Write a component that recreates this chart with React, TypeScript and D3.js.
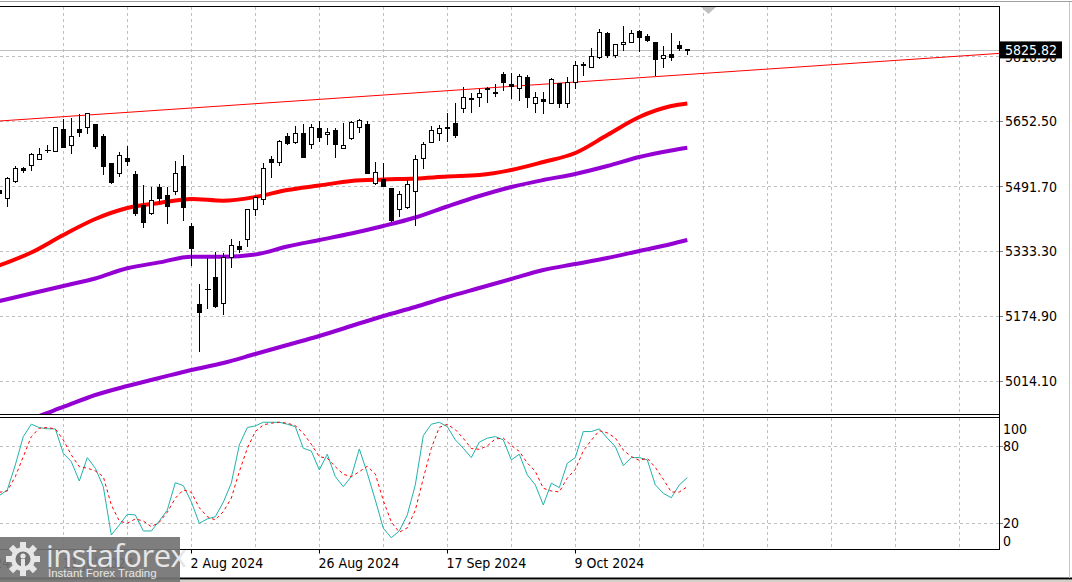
import React from 'react';
import * as d3 from 'd3';

// ---------- DATA ----------
const open = [5483.1,5462.7,5505.9,5535.9,5543.7,5559.9,5582.5,5579.6,5632.1,5592.8,5632.9,5637.0,5645.1,5615.7,5548.6,5525.6,5560.9,5522.4,5446.2,5425.9,5489.7,5470.8,5481.8,5542.7,5394.7,5203.2,5240.0,5270.2,5206.4,5317.8,5345.6,5363.5,5435.7,5460.2,5558.5,5551.1,5615.7,5600.9,5623.8,5595.3,5635.3,5619.8,5630.4,5585.5,5610.0,5638.5,5645.1,5499.5,5509.3,5487.3,5435.7,5440.6,5481.4,5560.9,5601.7,5622.3,5638.5,5646.9,5683.7,5709.7,5712.2,5732.8,5724.4,5767.9,5743.3,5732.8,5761.3,5697.4,5705.3,5696.0,5745.1,5696.0,5749.0,5792.5,5785.8,5808.9,5869.3,5814.6,5840.8,5847.2,5874.2,5861.9,5845.7,5807.9,5817.0,5839.1,5828.1];
const high = [5488.0,5515.0,5542.0,5540.3,5574.7,5585.5,5593.6,5637.8,5656.7,5659.1,5669.7,5672.1,5646.0,5619.8,5549.4,5576.4,5591.1,5529.0,5495.4,5489.7,5497.8,5491.2,5553.1,5569.0,5402.8,5252.3,5315.4,5331.6,5327.7,5362.8,5357.9,5436.4,5468.3,5548.6,5565.8,5605.8,5623.8,5640.2,5645.1,5645.1,5653.2,5634.6,5634.6,5648.3,5653.2,5656.7,5653.2,5552.6,5550.1,5488.0,5481.4,5507.6,5569.0,5601.7,5640.2,5642.7,5672.9,5696.0,5736.7,5720.5,5730.3,5736.7,5743.3,5773.6,5769.6,5767.9,5765.4,5723.0,5724.4,5757.3,5745.8,5761.3,5800.6,5798.1,5831.0,5877.7,5871.8,5841.6,5886.5,5875.9,5875.9,5866.1,5846.5,5836.7,5867.8,5849.7,5828.6];
const low = [5470.8,5443.8,5503.5,5528.0,5532.2,5559.2,5577.1,5578.8,5588.7,5573.2,5615.7,5623.8,5585.5,5522.4,5499.5,5518.2,5544.5,5421.7,5393.0,5424.1,5450.4,5402.8,5473.3,5409.4,5298.9,5088.5,5194.1,5195.8,5177.9,5294.7,5330.8,5345.6,5421.7,5448.7,5514.3,5543.7,5596.0,5599.7,5563.4,5585.5,5602.7,5596.0,5563.4,5585.0,5609.5,5626.2,5524.0,5497.8,5492.9,5407.7,5419.2,5438.9,5397.1,5536.4,5600.9,5605.8,5604.1,5614.0,5675.3,5675.3,5689.3,5699.9,5713.9,5728.6,5708.2,5704.1,5687.6,5675.3,5671.4,5695.5,5686.1,5686.9,5732.8,5765.4,5785.1,5807.2,5810.4,5808.9,5826.8,5846.9,5825.1,5848.9,5765.4,5785.8,5802.3,5826.8,5817.0];
const close = [5475.7,5511.8,5536.4,5533.4,5570.7,5570.7,5580.1,5637.0,5589.4,5615.7,5626.2,5671.4,5591.9,5542.7,5503.5,5569.0,5555.0,5427.3,5405.2,5458.5,5464.2,5443.8,5524.1,5442.1,5341.4,5184.3,5238.8,5198.3,5317.8,5347.3,5338.2,5436.4,5466.6,5536.4,5552.6,5604.1,5597.7,5622.3,5564.8,5637.0,5612.5,5626.2,5596.0,5593.6,5650.8,5655.0,5525.6,5528.0,5493.6,5409.4,5472.5,5497.8,5558.5,5596.0,5630.4,5636.0,5634.6,5618.1,5712.2,5705.8,5720.5,5730.3,5720.5,5749.0,5738.4,5763.0,5710.7,5712.2,5702.8,5754.9,5696.0,5749.0,5790.0,5791.2,5812.8,5870.3,5814.6,5841.6,5845.7,5867.8,5859.5,5851.4,5804.0,5814.6,5808.9,5831.0,5825.82];

// moving averages read at every 4th bar (bar index, price)
const maIdx = [0,4,8,12,16,20,24,28,32,36,40,44,48,52,56,60,64,68,72,76,80,84,86];
const maRed = [5297.7,5329.6,5372.6,5411.9,5438.9,5451.2,5461.0,5456.8,5465.9,5483.1,5494.1,5505.2,5508.9,5511.3,5516.2,5519.9,5532.2,5551.8,5573.9,5618.1,5662.3,5689.3,5695.5];
const maPurple1 = [5210.5,5228.9,5247.4,5265.8,5290.8,5305.3,5319.3,5319.3,5324.7,5344.3,5360.3,5376.3,5394.7,5415.6,5442.6,5468.3,5490.4,5507.6,5522.4,5542.0,5564.1,5580.1,5586.9];
const maPurple2 = [4888.9,4920.8,4950.3,4979.7,5001.8,5021.5,5041.1,5058.3,5080.4,5102.5,5124.6,5149.1,5173.7,5195.8,5220.3,5242.5,5264.6,5286.6,5301.4,5316.1,5333.3,5350.5,5360.3];

// trend line anchors (bar index, price)
const trendIdx = [0, 125];
const trendPrice = [5652.5, 5818.5];

// stochastic
const stochK = [41.4,45.8,65.1,87.0,96.6,94.0,93.0,93.0,74.1,67.7,52.7,70.8,62.6,48.3,11.0,18.7,27.0,26.5,14.1,14.1,21.8,30.3,51.4,49.1,36.7,20.0,23.4,25.1,36.3,51.0,80.6,94.0,95.3,98.1,98.1,98.1,96.6,94.7,78.0,75.9,61.3,73.4,56.1,48.3,56.1,77.5,58.7,38.0,16.2,8.9,14.1,26.5,49.7,87.8,96.6,98.1,94.7,84.5,78.0,70.8,82.7,85.8,87.0,84.5,69.0,73.4,57.4,49.7,34.2,51.0,47.6,66.4,70.8,90.9,90.9,93.0,85.8,79.3,64.6,70.8,70.8,69.0,49.7,43.2,39.8,49.7,55.3];
const stochD = [44.0,45.0,56.1,71.5,87.0,93.5,94.0,93.0,84.4,72.9,63.8,62.6,60.5,56.1,34.2,21.8,20.0,23.4,21.8,17.4,20.8,28.5,39.4,45.8,44.0,32.1,25.1,22.6,29.0,39.4,59.9,78.0,90.9,96.1,97.4,98.1,97.4,95.5,89.6,81.1,71.5,70.3,63.8,57.9,56.1,59.9,64.1,58.1,37.6,21.0,13.1,16.5,30.1,54.7,78.0,94.2,96.5,92.4,85.7,77.8,77.2,79.8,85.2,85.8,80.2,75.6,66.6,60.2,47.1,45.0,44.3,55.0,61.6,76.0,84.2,91.6,89.9,86.0,76.6,71.6,68.7,70.2,63.2,54.0,44.2,44.2,48.3];

// axes
const priceTicks = [5810.90, 5652.50, 5491.70, 5333.30, 5174.90, 5014.10];
const stochTicks = [80, 20];
const stochLabels = [100, 80, 20, 0];
const dateTickIdx = [-8, 8, 24, 40, 56, 72];
const dateTickLabels = ['19 Jun 2024', '11 Jul 2024', '2 Aug 2024', '26 Aug 2024', '17 Sep 2024', '9 Oct 2024'];
const lastPrice = 5825.82;

// ---------- LAYOUT ----------
const W = 1072, H = 582;
const PR = 999;
const MAIN_TOP = 6.5, MAIN_BOT = 414.5;
const ST_TOP = 417.5, ST_BOT = 549.5;
const FONT = "'DejaVu Sans Condensed', 'DejaVu Sans', sans-serif";

const x = d3.scaleLinear().domain([0, 125]).range([-0.7, 999.3]);
const y = d3.scaleLinear().domain([5014.1, 5652.5]).range([381, 121]);
const ys = d3.scaleLinear().domain([0, 100]).range([549.2, 419.8]);

export default function App() {
  const cx = (i: number) => Math.round(x(i)) + 0.5;
  const maLine = (vals: number[]) =>
    d3.line<number>().x((_, k) => x(maIdx[k])).y((v) => y(v)).curve(d3.curveMonotoneX)(vals) || '';
  const stLine = (vals: number[]) =>
    d3.line<number>().x((_, k) => x(k)).y((v) => ys(v))(vals) || '';
  const vGrid = d3.range(8, 126, 8);

  return (
    <svg width={W} height={H} style={{ position: 'absolute', left: 0, top: 0, background: '#fff' }}
      fontFamily={FONT}>
      <defs>
        <clipPath id="mainClip"><rect x={0} y={MAIN_TOP} width={PR} height={MAIN_BOT - MAIN_TOP} /></clipPath>
        <clipPath id="stClip"><rect x={0} y={ST_TOP} width={PR} height={ST_BOT - ST_TOP} /></clipPath>
      </defs>
      <rect x={0} y={0} width={W} height={H} fill="#fff" />
      <line x1={0} x2={W} y1={1.5} y2={1.5} stroke="#a0a0a0" />

      {/* grids */}
      <g stroke="#c0c0c0" strokeDasharray="3,3" shapeRendering="crispEdges">
        {vGrid.map((i) => (
          <g key={i}>
            <line x1={cx(i)} x2={cx(i)} y1={MAIN_TOP} y2={MAIN_BOT} />
            <line x1={cx(i)} x2={cx(i)} y1={ST_TOP} y2={ST_BOT} />
          </g>
        ))}
        {priceTicks.map((p) => (
          <line key={p} x1={0} x2={PR} y1={Math.round(y(p)) + 0.5} y2={Math.round(y(p)) + 0.5} />
        ))}
        {stochTicks.map((v) => (
          <line key={v} x1={0} x2={PR} y1={Math.round(ys(v)) + 0.5} y2={Math.round(ys(v)) + 0.5} />
        ))}
      </g>

      {/* main panel */}
      <g clipPath="url(#mainClip)">
        <line x1={0} x2={PR} y1={Math.round(y(lastPrice)) + 0.5} y2={Math.round(y(lastPrice)) + 0.5} stroke="#c0c0c0" />
        <line x1={x(trendIdx[0])} x2={x(trendIdx[1])} y1={y(trendPrice[0])} y2={y(trendPrice[1])} stroke="#ff0000" strokeWidth={1} />
        <path d={maLine(maPurple2)} fill="none" stroke="#9400d3" strokeWidth={4} />
        <path d={maLine(maPurple1)} fill="none" stroke="#9400d3" strokeWidth={4} />
        <path d={maLine(maRed)} fill="none" stroke="#ff0000" strokeWidth={4} />
        <g shapeRendering="crispEdges">
          {open.map((o, i) => {
            const c = close[i];
            const xc = cx(i);
            const top = Math.round(y(Math.max(o, c)));
            const bot = Math.round(y(Math.min(o, c)));
            const up = c >= o;
            return (
              <g key={i}>
                <line x1={xc} x2={xc} y1={Math.round(y(high[i]))} y2={Math.round(y(low[i])) + 1} stroke="#000" />
                {bot - top < 1 ? (
                  <line x1={xc - 2.5} x2={xc + 3.5} y1={top + 0.5} y2={top + 0.5} stroke="#000" />
                ) : (
                  <rect x={xc - 2} y={top + 0.5} width={4} height={bot - top}
                    fill={up ? '#fff' : '#000'} stroke="#000" />
                )}
              </g>
            );
          })}
        </g>
      </g>

      {/* stochastic */}
      <g clipPath="url(#stClip)">
        <path d={stLine(stochK)} fill="none" stroke="#20b2aa" strokeWidth={1} />
        <path d={stLine(stochD)} fill="none" stroke="#ff0000" strokeWidth={1} strokeDasharray="3,3" />
      </g>

      {/* frames */}
      <g stroke="#000" shapeRendering="crispEdges">
        <line x1={0} x2={PR + 0.5} y1={MAIN_TOP} y2={MAIN_TOP} />
        <line x1={0} x2={PR + 0.5} y1={MAIN_BOT} y2={MAIN_BOT} />
        <line x1={0} x2={PR + 0.5} y1={ST_TOP} y2={ST_TOP} />
        <line x1={0} x2={PR + 0.5} y1={ST_BOT} y2={ST_BOT} />
        <line x1={PR + 0.5} x2={PR + 0.5} y1={MAIN_TOP} y2={ST_BOT} />
      </g>
      <polygon points="701,7 716,7 708.5,14" fill="#c0c0c0" />

      {/* price axis */}
      <g fontSize={14} fill="#000">
        {priceTicks.map((p) => (
          <g key={p}>
            <line x1={PR + 1} x2={PR + 4} y1={Math.round(y(p)) + 0.5} y2={Math.round(y(p)) + 0.5} stroke="#808080" />
            <text x={1005} y={y(p)} dy="0.36em">{p.toFixed(2)}</text>
          </g>
        ))}
        <rect x={1000} y={y(lastPrice) - 9} width={62} height={17} fill="#000" />
        <text x={1031} y={y(lastPrice)} dy="0.36em" textAnchor="middle" fill="#fff">{lastPrice.toFixed(2)}</text>
      </g>

      {/* stochastic axis */}
      <g fontSize={14} fill="#000">
        {stochTicks.map((v) => (
          <line key={v} x1={PR + 1} x2={PR + 4} y1={Math.round(ys(v)) + 0.5} y2={Math.round(ys(v)) + 0.5} stroke="#808080" />
        ))}
        {stochLabels.map((v) => {
          const yy = v === 100 ? ys(100) + 9 : v === 0 ? ys(0) - 8 : ys(v);
          return <text key={v} x={1003} y={yy} dy="0.36em">{v}</text>;
        })}
      </g>

      {/* time axis */}
      <g fontSize={14} fill="#000">
        {dateTickIdx.map((i, k) => (
          <g key={i}>
            <line x1={cx(i)} x2={cx(i)} y1={ST_BOT} y2={ST_BOT + 4} stroke="#000" />
            <text x={cx(i) - 1} y={563} dy="0.36em">{dateTickLabels[k]}</text>
          </g>
        ))}
      </g>
      <line x1={0} x2={W} y1={578.5} y2={578.5} stroke="#000" strokeWidth={2} />
      <rect x={0} y={580} width={W} height={2} fill="#d4d0c8" />
      <line x1={1069.5} x2={1069.5} y1={2} y2={578} stroke="#c8c8c8" />

      {/* logo */}
      <g>
        <rect x={0} y={537} width={180} height={45} fill="#737373" opacity={0.92} />
        <g transform="translate(23,559)" fill="#e6e6e6">
          {d3.range(8).map((k) => (
            <rect key={k} x={-3} y={-17} width={6} height={7} transform={`rotate(${k * 45})`} />
          ))}
          <circle r={12} />
          <circle r={7.5} fill="#737373" />
          <circle cx={0} cy={-3} r={2.6} />
          <rect x={-2} y={0} width={4} height={8} />
        </g>
        <text x={46} y={567} fontFamily="'Open Sans', 'Liberation Sans', sans-serif" fontSize={31} fill="#e6e6e6"
          letterSpacing={-0.5}>instaforex</text>
        <text x={48} y={577} fontFamily="'Liberation Sans', sans-serif" fontSize={11.5} fill="#e6e6e6">Instant Forex Trading</text>
      </g>
    </svg>
  );
}
